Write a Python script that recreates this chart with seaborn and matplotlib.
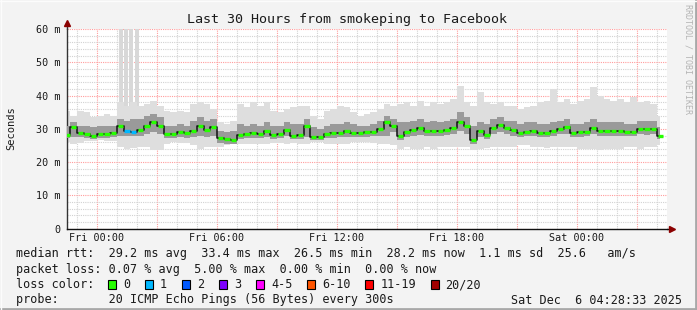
import numpy as np
import matplotlib
matplotlib.use("Agg")
import matplotlib.pyplot as plt
import seaborn as sns
from matplotlib.patches import Rectangle
from matplotlib.lines import Line2D

# ---------------- data (hours relative to Fri 00:00, 20-minute steps) ----------------
t_start = -1.5
step_h = 1.0 / 3.0

median_ms = [28.3,30.5,28.8,28.4,28.0,28.6,28.4,28.8,30.8,29.5,
             29.2,29.8,31.0,32.2,31.0,28.5,28.6,29.0,28.7,29.3,
             31.0,29.6,30.5,27.3,26.9,26.8,28.3,28.5,28.8,28.6,
             29.3,28.3,28.5,29.8,28.0,28.2,31.0,27.6,27.6,28.6,
             28.7,28.8,29.3,28.8,28.8,29.0,29.2,30.0,32.0,30.8,
             28.0,29.0,29.8,30.2,29.3,29.5,29.5,29.8,30.3,32.2,
             31.0,26.8,29.3,28.3,30.3,31.3,30.2,29.8,28.8,29.2,
             29.4,28.8,28.7,29.3,30.0,30.5,28.8,29.0,29.0,30.2,
             29.5,29.5,29.4,29.3,29.1,29.1,30.0,29.9,30.0,28.0]

smoke_outer_hi = [35.5,34.0,35.5,35.0,33.5,34.0,34.5,34.0,38.0,37.0,
                  38.0,37.0,37.5,38.5,37.0,35.5,35.0,35.5,35.0,37.5,
                  38.0,37.5,36.0,32.0,31.5,32.5,37.5,36.5,38.0,37.0,
                  38.0,35.5,35.0,36.0,36.5,37.0,37.0,34.0,33.0,35.5,
                  36.0,37.0,36.5,35.0,34.0,34.5,35.0,36.0,37.5,37.0,
                  37.5,38.0,37.0,38.5,37.0,38.0,37.5,38.0,39.0,43.0,
                  38.0,37.0,41.0,38.0,37.5,38.0,37.0,37.0,36.0,36.5,
                  37.0,38.0,38.5,42.0,38.0,39.0,37.5,38.5,39.0,42.5,
                  40.0,39.0,38.5,39.0,38.0,39.5,38.0,38.5,37.5,34.0]

smoke_outer_lo = [26.0,25.5,25.8,26.3,26.3,26.5,26.3,26.3,24.5,24.0,
                  24.3,24.5,24.5,23.5,23.5,25.5,26.0,25.8,25.8,25.0,
                  24.0,24.5,24.5,24.5,25.0,25.3,25.3,25.5,25.5,25.5,
                  25.5,25.8,25.8,25.5,25.8,25.5,25.5,26.0,26.0,25.5,
                  25.3,25.3,25.5,26.0,26.0,26.0,25.8,25.5,25.5,25.0,
                  24.0,24.5,24.0,23.8,24.5,24.0,24.5,24.5,24.5,24.5,
                  24.5,23.5,24.0,24.3,24.5,24.5,24.5,24.5,25.0,25.0,
                  24.5,24.5,24.3,24.5,24.5,24.5,24.5,24.0,24.0,24.0,
                  23.5,24.0,24.0,24.0,24.5,24.5,24.0,24.5,24.5,25.0]

smoke_inner_hi = [31.0,32.0,31.0,31.0,30.5,31.0,31.0,31.0,33.0,32.5,
                  33.0,33.0,34.0,34.5,33.5,31.0,31.0,31.5,31.0,32.5,
                  33.5,32.5,33.0,29.5,29.0,29.5,31.5,31.0,31.5,31.0,
                  32.0,31.0,31.0,32.0,31.5,31.5,33.0,30.5,30.0,31.0,
                  31.5,31.5,32.0,31.5,31.0,31.0,31.5,32.5,34.0,33.0,
                  32.0,32.0,32.5,33.0,32.0,32.5,32.0,32.5,33.0,35.0,
                  33.5,31.0,32.0,31.5,33.0,33.5,32.5,32.5,31.5,32.0,
                  32.0,31.5,31.5,32.0,32.5,33.0,31.5,31.5,32.0,33.0,
                  32.0,32.0,32.0,32.0,31.5,31.5,32.5,32.5,32.5,30.5]

smoke_inner_lo = [27.3,27.5,27.5,27.3,27.0,27.3,27.3,27.5,28.0,27.8,
                  27.8,28.0,28.5,29.0,28.5,27.3,27.3,27.5,27.3,27.5,
                  28.0,27.5,28.0,25.8,25.5,25.5,27.0,27.2,27.3,27.2,
                  27.5,27.0,27.2,27.8,27.0,27.0,27.5,26.5,26.5,27.3,
                  27.3,27.5,27.5,27.5,27.5,27.5,27.8,27.8,28.0,29.0,
                  26.5,27.5,28.0,28.3,27.8,27.8,28.0,28.2,28.5,29.5,
                  28.5,25.5,27.5,27.0,28.5,29.0,28.5,28.0,27.5,27.8,
                  28.0,27.5,27.5,28.0,28.5,28.5,27.5,27.5,27.8,28.5,
                  28.0,28.0,28.0,27.8,27.8,27.8,28.5,28.3,28.5,27.0]

loss_pings = [0]*90
loss_pings[9] = 1
loss_pings[10] = 1

spike_hours = [1.2, 1.45, 1.7, 2.0]
spike_bottom = [36.0, 36.0, 36.0, 36.0]
spike_top = [62.0, 62.0, 62.0, 62.0]

x_major_hours = [0, 6, 12, 18, 24]
x_major_labels = ["Fri 00:00", "Fri 06:00", "Fri 12:00", "Fri 18:00", "Sat 00:00"]
y_ticks = [0, 10, 20, 30, 40, 50, 60]
y_tick_labels = ["0", "10 m", "20 m", "30 m", "40 m", "50 m", "60 m"]

loss_labels = ["0", "1", "2", "3", "4-5", "6-10", "11-19", "20/20"]
loss_colors = ["#26ff00", "#00b8ff", "#0059ff", "#7e00ff", "#ff00ff", "#ff5500", "#ff0000", "#a10000"]

title = "Last 30 Hours from smokeping to Facebook"
line_rtt = "median rtt:  29.2 ms avg  33.4 ms max  26.5 ms min  28.2 ms now  1.1 ms sd  25.6   am/s"
line_loss = "packet loss: 0.07 % avg  5.00 % max  0.00 % min  0.00 % now"
line_probe = "probe:       20 ICMP Echo Pings (56 Bytes) every 300s"
stamp = "Sat Dec  6 04:28:33 2025"

# ---------------- styling ----------------
sns.set_theme(style="white")
plt.rcParams['font.family'] = ['DejaVu Sans Mono', 'DejaVu Sans']

W, H = 697, 310
fig = plt.figure(figsize=(W/100, H/100), dpi=100, facecolor="#f3f3f3")
ax = fig.add_axes([67/W, 1-228.7/H, 600/W, (228.7-29.0)/H])
ax.set_facecolor("white")

t = t_start + np.arange(len(median_ms)) * step_h
med = np.array(median_ms)

# grid
ax.set_xlim(-1.5, 28.5)
ax.set_ylim(0, 60)
ax.set_xticks(np.arange(0, 28, 3))
ax.set_xticks(np.arange(-1, 29, 1), minor=True)
ax.set_xticklabels([x_major_labels[x_major_hours.index(h)] if h in x_major_hours else "" for h in range(0, 28, 3)])
ax.set_yticks(y_ticks)
ax.set_yticklabels(y_tick_labels)
ax.set_yticks(np.arange(0, 61, 2), minor=True)
ax.grid(which="minor", color="#d2d2d2", linestyle=(0, (1, 1)), lw=0.8, zorder=0)
ax.grid(which="major", color="#ff9c9c", linestyle=(0, (1, 1)), lw=0.8, zorder=0)
ax.set_axisbelow(True)
ax.tick_params(which="both", length=0, labelsize=7.3, colors="#1a1a1a")
ax.tick_params(axis="y", pad=5)
ax.tick_params(axis="x", pad=3)

# smoke
ax.bar(spike_hours, np.array(spike_top) - np.array(spike_bottom), bottom=spike_bottom,
       width=0.16, color="#d8d8d8", linewidth=0, zorder=1)
ax.fill_between(t, smoke_outer_lo, smoke_outer_hi, step="mid", color="#dedede", lw=0, zorder=2)
ax.fill_between(t, smoke_inner_lo, smoke_inner_hi, step="mid", color="#9a9a9a", lw=0, zorder=3)

# median line (thin black + loss-coloured dashes)
sns.lineplot(x=t, y=med, drawstyle="steps-mid", color="#111111", lw=1.1, ax=ax, zorder=5)
ax.hlines(med, t - 0.13, t + 0.13, colors=[loss_colors[l] for l in loss_pings], lw=2.4, zorder=6)

# spines & arrows
for s in ["top", "right"]:
    ax.spines[s].set_visible(False)
ax.spines["left"].set_color("#333333")
ax.spines["bottom"].set_color("#111111")
ax.spines["left"].set_linewidth(1.0)
ax.spines["bottom"].set_linewidth(1.0)
ax.add_line(Line2D([0, 0], [1, 1 + 6/200], transform=ax.transAxes, color="#333333", lw=1.0, clip_on=False))
ax.plot([0], [1 + 6.5/200], marker="^", ms=5, color="#8b0000", transform=ax.transAxes, clip_on=False)
ax.add_line(Line2D([1, 1 + 2/600], [0, 0], transform=ax.transAxes, color="#111111", lw=1.0, clip_on=False))
ax.plot([1 + 5/600], [0], marker=">", ms=5, color="#8b0000", transform=ax.transAxes, clip_on=False)
ax.set_xlabel("")
ax.set_ylabel("")

# texts
fig.text(347/W, 1-19.3/H, title, ha="center", va="center", fontsize=9.6, color="#1a1a1a")
fig.text(11/W, 1-128/H, "Seconds", rotation=90, ha="center", va="center", fontsize=7.5, color="#1a1a1a")
fig.text(688/W, 1-4/H, "RRDTOOL / TOBI OETIKER", rotation=270, ha="center", va="top",
         fontsize=6.0, color="#b4b4b4")

cw = 7.1  # px per monospace char
x0 = 16
fs = 8.5
rows_y = [253.5, 269.0, 284.5, 300.0]
fig.text(x0/W, 1-rows_y[0]/H, line_rtt, ha="left", va="center", fontsize=fs, color="#1a1a1a")
fig.text(x0/W, 1-rows_y[1]/H, line_loss, ha="left", va="center", fontsize=fs, color="#1a1a1a")
fig.text(x0/W, 1-rows_y[2]/H, "loss color:", ha="left", va="center", fontsize=fs, color="#1a1a1a")
c = 13.0
for lab, col in zip(loss_labels, loss_colors):
    sx = x0 + c*cw
    fig.patches.append(Rectangle((sx/W, 1-(rows_y[2]+4.5)/H), 8/W, 9/H, transform=fig.transFigure,
                                 facecolor=col, edgecolor="black", lw=0.8, figure=fig))
    lx = c + 2.1
    fig.text((x0 + lx*cw)/W, 1-rows_y[2]/H, lab, ha="left", va="center", fontsize=fs, color="#1a1a1a")
    c = lx + len(lab) + 2.1
fig.text(x0/W, 1-rows_y[3]/H, line_probe, ha="left", va="center", fontsize=fs, color="#1a1a1a")
fig.text(682/W, 1-rows_y[3]/H, stamp, ha="right", va="center", fontsize=fs, color="#1a1a1a")

# frame
fig.add_artist(Line2D([1-1.5/W, 1-1.5/W], [0, 1], transform=fig.transFigure, color="#a8a8a8", lw=2))
fig.add_artist(Line2D([0, 1], [1.5/H, 1.5/H], transform=fig.transFigure, color="#a8a8a8", lw=2))
fig.add_artist(Line2D([0.5/W, 0.5/W], [0, 1], transform=fig.transFigure, color="#fcfcfc", lw=1))
fig.add_artist(Line2D([0, 1], [1-0.5/H, 1-0.5/H], transform=fig.transFigure, color="#fcfcfc", lw=1))

fig.savefig("out.png", dpi=100, facecolor=fig.get_facecolor())
